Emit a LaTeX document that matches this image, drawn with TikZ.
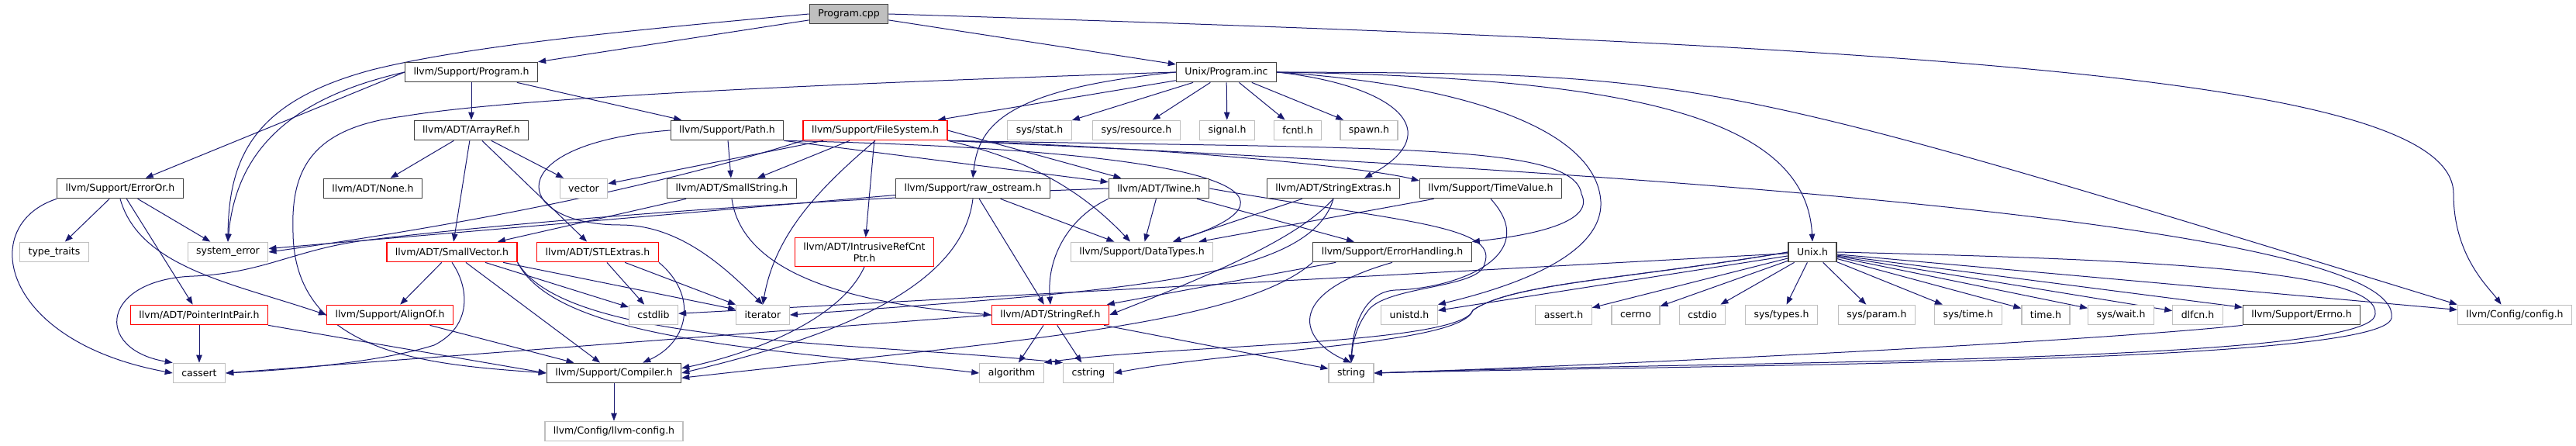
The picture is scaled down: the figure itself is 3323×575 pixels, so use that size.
\documentclass[tikz,border=0pt]{standalone}
\usepackage{fontspec}
\setmainfont{DejaVu Sans}
\usepackage{xcolor}
\usepackage{tikz}
\usetikzlibrary{arrows.meta}

\definecolor{edgeblue}{HTML}{191970}
\definecolor{docgray}{HTML}{404040}
\definecolor{extgray}{HTML}{BFBFBF}

\pgfdeclarelayer{edges}
\pgfsetlayers{edges,main}

\begin{document}
\begin{tikzpicture}[
    x=0.8pt,
    y=-0.8pt,
    >={Triangle[length=8pt,width=6pt]},
    every node/.style={font=\normalsize},
    docfile/.style={draw=docgray,line width=1pt,fill=white,
        inner xsep=8.8pt,inner ysep=0pt,minimum height=20.4pt},
    extfile/.style={docfile,draw=extgray},
    cutfile/.style={docfile,draw=red},
    rootfile/.style={docfile,fill=extgray},
    incl/.style={->,draw=edgeblue,line width=0.8pt}
]

\useasboundingbox (0,0) rectangle (3323,575);

% Row 0
\node[rootfile] (pcpp) at (1095,18) {Program.cpp};

% Row 1
\node[docfile] (progh) at (608,93) {llvm/Support/Program.h};
\node[docfile] (proginc) at (1582,93) {Unix/Program.inc};

% Row 2
\node[docfile] (arrayref) at (608,168) {llvm/ADT/ArrayRef.h};
\node[docfile] (pathh) at (938,168) {llvm/Support/Path.h};
\node[cutfile] (filesys) at (1129,168) {llvm/Support/FileSystem.h};
\node[extfile] (sysstat) at (1341,168) {sys/stat.h};
\node[extfile] (sysres) at (1466,168) {sys/resource.h};
\node[extfile] (signalh) at (1583,168) {signal.h};
\node[extfile] (fcntlh) at (1674,168) {fcntl.h};
\node[extfile] (spawnh) at (1766,168) {spawn.h};

% Row 3
\node[docfile] (erroror) at (155,243) {llvm/Support/ErrorOr.h};
\node[docfile] (noneh) at (481,243) {llvm/ADT/None.h};
\node[extfile] (vector) at (753,243) {vector};
\node[docfile] (smallstr) at (944,243) {llvm/ADT/SmallString.h};
\node[docfile] (rawos) at (1255,243) {llvm/Support/raw\_ostream.h};
\node[docfile] (twine) at (1495,243) {llvm/ADT/Twine.h};
\node[docfile] (strextras) at (1720,243) {llvm/ADT/StringExtras.h};
\node[docfile] (timeval) at (1923,243) {llvm/Support/TimeValue.h};

% Row 4
\node[extfile] (typetr) at (70,325) {type\_traits};
\node[extfile] (syserr) at (294,325) {system\_error};
\node[cutfile] (smallvec) at (583,325) {llvm/ADT/SmallVector.h};
\node[cutfile] (stlext) at (771,325) {llvm/ADT/STLExtras.h};
\node[cutfile,align=center,inner ysep=5pt] (intrusive) at (1115,325)
    {llvm/ADT/IntrusiveRefCnt\\Ptr.h};
\node[extfile] (datatypes) at (1473,325) {llvm/Support/DataTypes.h};
\node[docfile] (errhand) at (1796,325) {llvm/Support/ErrorHandling.h};
\node[docfile] (unixh) at (2338,325) {Unix.h};

% Row 5
\node[cutfile] (ptrint) at (257,406) {llvm/ADT/PointerIntPair.h};
\node[cutfile] (alignof) at (503,406) {llvm/Support/AlignOf.h};
\node[extfile] (cstdlib) at (843,406) {cstdlib};
\node[extfile] (iterator) at (984,406) {iterator};
\node[cutfile] (strref) at (1355,406) {llvm/ADT/StringRef.h};
\node[extfile] (unistd) at (1818,406) {unistd.h};
\node[extfile] (asserth) at (2017,406) {assert.h};
\node[extfile] (cerrno) at (2110,406) {cerrno};
\node[extfile] (cstdio) at (2196,406) {cstdio};
\node[extfile] (systypes) at (2298,406) {sys/types.h};
\node[extfile] (sysparam) at (2421,406) {sys/param.h};
\node[extfile] (systime) at (2539,406) {sys/time.h};
\node[extfile] (timeh) at (2639,406) {time.h};
\node[extfile] (syswait) at (2736,406) {sys/wait.h};
\node[extfile] (dlfcn) at (2835,406) {dlfcn.h};
\node[docfile] (errnoh) at (2969,406) {llvm/Support/Errno.h};
\node[extfile] (configh) at (3244,406) {llvm/Config/config.h};

% Row 6
\node[extfile] (cassert) at (257,481) {cassert};
\node[docfile] (compiler) at (792,481) {llvm/Support/Compiler.h};
\node[extfile] (algorithm) at (1305,481) {algorithm};
\node[extfile] (cstring) at (1404,481) {cstring};
\node[extfile] (stringh) at (1743,481) {string};

% Row 7
\node[extfile] (llvmcfg) at (792,556) {llvm/Config/llvm-config.h};

\begin{pgfonlayer}{edges}
\fill[white] (0,0) rectangle (3323,575);

% Program.cpp
\draw[incl] (pcpp) -- (progh);
\draw[incl] (pcpp) -- (proginc);
\draw[incl] (pcpp.west) .. controls (800,40) and (600,60) .. (480,90)
    .. controls (330,130) and (295,200) .. (syserr.north);
\draw[incl] (pcpp.east) .. controls (2500,60) and (3165,100) .. (3165,250)
    .. controls (3165,330) and (3210,370) .. ([xshift=-14pt]configh.north);

% llvm/Support/Program.h
\draw[incl] (progh) -- (arrayref);
\draw[incl] (progh) -- (pathh);
\draw[incl] (progh.west) -- (erroror);
\draw[incl] (progh.west) .. controls (380,125) and (305,190) .. (syserr.north);

% Unix/Program.inc
\draw[incl] (proginc) -- (sysstat);
\draw[incl] (proginc) -- (sysres);
\draw[incl] (proginc) -- (signalh);
\draw[incl] (proginc) -- (fcntlh);
\draw[incl] (proginc) -- (spawnh);
\draw[incl] (proginc) -- (filesys);
\draw[incl] (proginc.west) .. controls (1300,115) and (1262,160) .. (rawos.north);
\draw[incl] (proginc.west) .. controls (1000,110) and (650,128) .. (520,150)
    .. controls (400,165) and (375,220) .. (378,300)
    .. controls (380,460) and (560,470) .. (compiler.west);
\draw[incl] (proginc.east) .. controls (1800,110) and (1870,170) .. ([xshift=32pt]strextras.north);
\draw[incl] (proginc.east) .. controls (1900,110) and (2060,170) .. (2065,260)
    .. controls (2068,330) and (1950,370) .. (unistd.north east);
\draw[incl] (proginc.east) .. controls (2100,100) and (2330,150) .. (unixh.north);
\draw[incl] (proginc.east) .. controls (2200,95) .. (configh.north west);

% llvm/ADT/ArrayRef.h
\draw[incl] (arrayref) -- (noneh);
\draw[incl] (arrayref) -- (vector);
\draw[incl] (arrayref) -- (smallvec);
\draw[incl] (arrayref) -- (stlext);

% llvm/Support/Path.h
\draw[incl] (pathh) -- (smallstr);
\draw[incl] (pathh.south east) -- (twine);
\draw[incl] (pathh.south east) .. controls (1640,195) and (1680,260) .. ([xshift=32pt]datatypes.north);
\draw[incl] (pathh.west) .. controls (640,185) and (660,290) .. (800,290)
    .. controls (880,290) and (940,350) .. (iterator.north);

% llvm/Support/FileSystem.h
\draw[incl] (filesys) -- (vector);
\draw[incl] (filesys) -- (smallstr);
\draw[incl] (filesys) -- (intrusive);
\draw[incl] (filesys.south) .. controls (1060,240) and (1000,300) .. (iterator.north);
\draw[incl] (filesys.south west) .. controls (850,240) and (600,290) .. (syserr.east);
\draw[incl] (filesys.east) -- (twine);
\draw[incl] (filesys.south east) .. controls (1330,205) and (1400,250) .. ([xshift=-12pt]datatypes.north);
\draw[incl] (filesys.south east) .. controls (1500,190) and (1760,215) .. ([yshift=8pt]timeval.west);
\draw[incl] (filesys.south east) .. controls (1800,192) and (2030,185) .. (2040,250)
    .. controls (2060,290) and (1960,305) .. (errhand.north east);
\draw[incl] (filesys.south east) .. controls (2300,230) and (3100,300) .. (3085,410)
    .. controls (3075,470) and (2200,470) .. (stringh.east);

% llvm/ADT/SmallString.h
\draw[incl] (smallstr) -- (smallvec);
\draw[incl] (smallstr.south) .. controls (960,370) and (1150,395) .. (strref.west);

% llvm/Support/raw_ostream.h
\draw[incl] (rawos) -- (syserr);
\draw[incl] (rawos) -- (strref);
\draw[incl] (rawos) -- (datatypes);
\draw[incl] (rawos.south) .. controls (1240,380) and (1050,440) .. (compiler.east);

% llvm/ADT/Twine.h
\draw[incl] (twine.south west) .. controls (1380,280) and (1350,330) .. (strref.north);
\draw[incl] (twine) -- (datatypes);
\draw[incl] (twine) -- (errhand);
\draw[incl] (twine.east) .. controls (1800,285) and (1935,290) .. (1915,340)
    .. controls (1910,372) and (1790,368) .. (1765,400)
    .. controls (1750,420) and (1745,440) .. (stringh.north);
\draw[incl] (twine.west) .. controls (1000,258) and (650,288) .. (470,310)
    .. controls (380,322) and (340,352) .. (250,356)
    .. controls (130,360) and (120,450) .. (cassert.north west);

% llvm/ADT/StringExtras.h
\draw[incl] (strextras) -- (datatypes);
\draw[incl] (strextras.south) .. controls (1680,300) and (1600,340) .. (strref.east);
\draw[incl] (strextras.south) .. controls (1690,360) and (1450,375) .. (iterator.east);

% llvm/Support/TimeValue.h
\draw[incl] (timeval) -- (datatypes);
\draw[incl] (timeval.south) .. controls (1990,330) and (1880,372) .. (1800,374)
    .. controls (1760,376) and (1745,420) .. (stringh.north);

% llvm/Support/ErrorHandling.h
\draw[incl] (errhand) -- (strref);
\draw[incl] (errhand.south west) .. controls (1600,420) and (1300,440) .. ([yshift=-5pt]compiler.east);
\draw[incl] (errhand.south) .. controls (1650,380) and (1680,440) .. (stringh.north);

% llvm/ADT/SmallVector.h
\draw[incl] (smallvec) -- (alignof);
\draw[incl] (smallvec) -- (compiler);
\draw[incl] (smallvec) -- (cstdlib);
\draw[incl] (smallvec) -- (iterator);
\draw[incl] (smallvec.south) .. controls (605,370) and (610,420) .. (560,445)
    .. controls (480,470) and (350,478) .. (cassert.east);
\draw[incl] (smallvec.south east) .. controls (720,440) and (1000,450) .. (algorithm.west);
\draw[incl] (smallvec.south east) .. controls (730,445) and (1100,440) .. (cstring.north west);

% llvm/ADT/STLExtras.h
\draw[incl] (stlext) -- (cstdlib);
\draw[incl] (stlext) -- (iterator);
\draw[incl] (stlext.south east) .. controls (900,380) and (890,440) .. ([xshift=-40pt]compiler.north east);

% llvm/ADT/IntrusiveRefCntPtr.h
\draw[incl] (intrusive.south) .. controls (1080,420) and (950,460) .. ([yshift=5pt]compiler.east);

% llvm/ADT/PointerIntPair.h and llvm/Support/AlignOf.h
\draw[incl] (ptrint) -- (cassert);
\draw[incl] (ptrint.south east) -- (compiler.west);
\draw[incl] (alignof) -- (compiler);

% llvm/ADT/StringRef.h
\draw[incl] (strref) -- (algorithm);
\draw[incl] (strref) -- (cstring);
\draw[incl] (strref) -- (stringh);
\draw[incl] (strref.west) -- (cassert.east);

% llvm/Support/ErrorOr.h
\draw[incl] (erroror) -- (typetr);
\draw[incl] (erroror) -- (syserr);
\draw[incl] (erroror) -- (ptrint);
\draw[incl] (erroror.south) .. controls (180,345) and (300,365) .. (alignof.west);
\draw[incl] (erroror.south west) .. controls (-30,290) and (0,440) .. (cassert.west);

% Unix.h
\draw[incl] (unixh) -- (unistd);
\draw[incl] (unixh) -- (asserth);
\draw[incl] (unixh) -- (cerrno);
\draw[incl] (unixh) -- (cstdio);
\draw[incl] (unixh) -- (systypes);
\draw[incl] (unixh) -- (sysparam);
\draw[incl] (unixh) -- (systime);
\draw[incl] (unixh) -- (timeh);
\draw[incl] (unixh) -- (syswait);
\draw[incl] (unixh) -- (dlfcn);
\draw[incl] (unixh) -- (errnoh);
\draw[incl] (unixh) -- (configh);
\draw[incl] (unixh) -- (cstdlib);
\draw[incl] (unixh.west) .. controls (2100,360) and (1950,365) .. (1900,400)
    .. controls (1885,445) and (1600,450) .. (cstring.east);
\draw[incl] (unixh.west) .. controls (2100,360) and (1950,365) .. (1900,400)
    .. controls (1885,445) and (1500,445) .. (algorithm.north east);
\draw[incl] (unixh.east) .. controls (2800,335) and (3070,350) .. (3064,405)
    .. controls (3062,470) and (2200,465) .. (stringh.east);

% llvm/Support/Errno.h and llvm/Support/Compiler.h
\draw[incl] (errnoh.south west) .. controls (2700,440) and (2100,470) .. (stringh.east);
\draw[incl] (compiler) -- (llvmcfg);
\end{pgfonlayer}

\end{tikzpicture}
\end{document}
